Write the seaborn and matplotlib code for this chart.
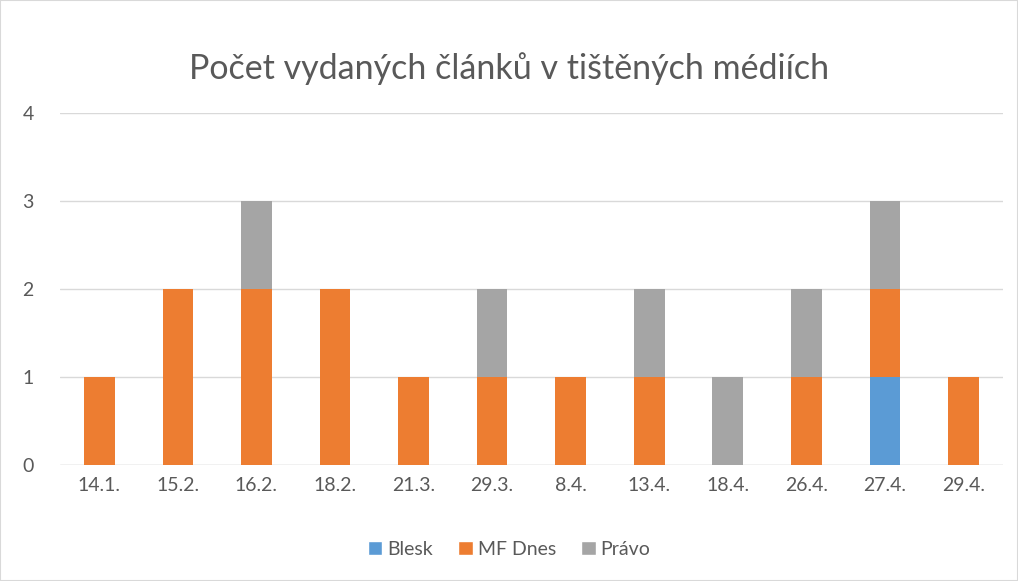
import numpy as np
import pandas as pd
import matplotlib
matplotlib.use("Agg")
import matplotlib.pyplot as plt
import seaborn as sns
from matplotlib.patches import Rectangle, Patch

dates = ["14.1.", "15.2.", "16.2.", "18.2.", "21.3.", "29.3.",
         "8.4.", "13.4.", "18.4.", "26.4.", "27.4.", "29.4."]
blesk = [0, 0, 0, 0, 0, 0, 0, 0, 0, 0, 1, 0]
mf_dnes = [1, 2, 2, 2, 1, 1, 1, 1, 0, 1, 1, 1]
pravo = [0, 0, 1, 0, 0, 1, 0, 1, 1, 1, 1, 0]

series = ["Blesk", "MF Dnes", "Právo"]
colors = {"Blesk": "#5B9BD5", "MF Dnes": "#ED7D31", "Právo": "#A5A5A5"}

sns.set_style("white")
plt.rcParams["font.family"] = ["Lato", "DejaVu Sans"]

df = pd.DataFrame({"date": dates, "Blesk": blesk, "MF Dnes": mf_dnes, "Právo": pravo})
cum = df[series].cumsum(axis=1)

fig = plt.figure(figsize=(10.18, 5.81), dpi=100)
ax = fig.add_axes([0.059, 0.2, 0.926, 0.6055])

# draw from the top layer down so each stack shows its segments
for name in reversed(series):
    sns.barplot(x=df["date"], y=cum[name], color=colors[name], width=0.39,
                saturation=1, linewidth=0, ax=ax, zorder=3)

ax.set_ylim(0, 4)
ax.set_xlim(-0.5, len(dates) - 0.5)
ax.set_yticks([0, 1, 2, 3, 4])
ax.yaxis.grid(True, color="#D9D9D9", linewidth=1, zorder=0)
ax.set_axisbelow(True)
for s in ax.spines.values():
    s.set_visible(False)
ax.axhline(0, color="#D9D9D9", linewidth=1, zorder=1)
ax.set_xlabel("")
ax.set_ylabel("")
ax.tick_params(axis="both", length=0, labelsize=14, colors="#595959")
ax.tick_params(axis="y", pad=19)
ax.tick_params(axis="x", pad=9)

fig.suptitle("Počet vydaných článků v tištěných médiích", y=0.91,
             fontsize=24.5, color="#595959")

handles = [Patch(facecolor=colors[n], label=n) for n in series]
fig.legend(handles=handles, loc="center", bbox_to_anchor=(0.5, 0.055), ncol=3,
           frameon=False, fontsize=14, handlelength=0.75, handleheight=0.75,
           handletextpad=0.25, columnspacing=1.3, labelcolor="#595959")

fig.patches.append(Rectangle((0, 0), 1, 1, transform=fig.transFigure,
                             fill=False, edgecolor="#D9D9D9", linewidth=1.5))

fig.savefig("out.png", dpi=100)
